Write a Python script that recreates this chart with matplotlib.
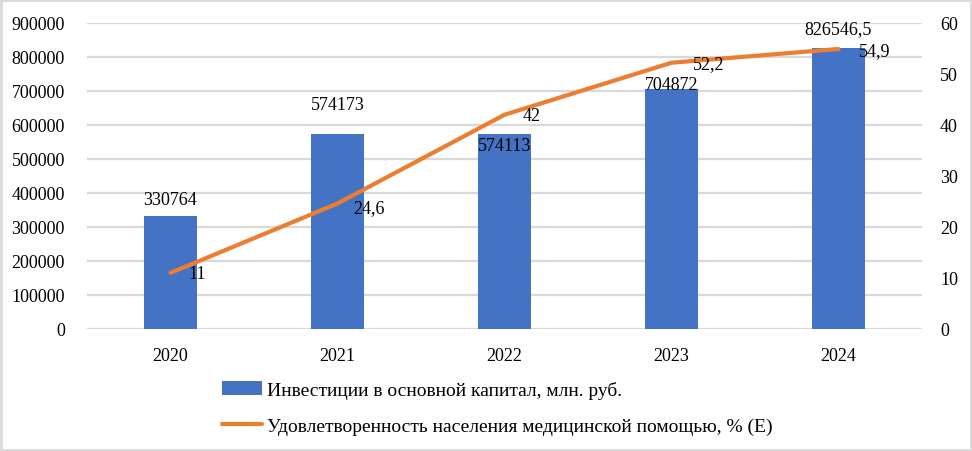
import matplotlib.pyplot as plt
import numpy as np

years = ["2020", "2021", "2022", "2023", "2024"]
invest = [330764, 574173, 574113, 704872, 826546.5]
invest_labels = ["330764", "574173", "574113", "704872", "826546,5"]
satisf = [11, 24.6, 42, 52.2, 54.9]
satisf_labels = ["11", "24,6", "42", "52,2", "54,9"]

plt.rcParams["font.family"] = ["Liberation Serif", "DejaVu Serif"]
plt.rcParams["font.size"] = 13

fig = plt.figure(figsize=(9.72, 4.52), dpi=100)
ax = fig.add_axes([0.0895, 0.27, 0.859, 0.677])
ax2 = ax.twinx()

x = np.arange(len(years))
bars = ax.bar(x, invest, width=0.32, color="#4472C4", zorder=2,
              label="Инвестиции в основной капитал, млн. руб.")
line, = ax2.plot(x, satisf, color="#ED7D31", lw=3, solid_capstyle="round", zorder=3,
                 label="Удовлетворенность населения медицинской помощью, % (Е)")

ax.set_xlim(-0.5, len(years) - 0.5)
ax.set_ylim(0, 900000)
ax.set_yticks(range(0, 900001, 100000))
ax2.set_ylim(0, 60)
ax2.set_yticks(range(0, 61, 10))
ax.set_xticks(x)
ax.set_xticklabels(years)
ax.yaxis.grid(True, color="#D9D9D9", lw=1.6, zorder=0)
ax.set_axisbelow(True)
for a in (ax, ax2):
    for s in a.spines.values():
        s.set_visible(False)
    a.tick_params(length=0, colors="#000000")
ax.tick_params(axis="y", pad=16)
ax.tick_params(axis="x", pad=13)
ax2.tick_params(axis="y", pad=13)

# data label offsets (pixels)
bar_off = [17, 29, -12, 5, 19]
for i, v in enumerate(invest):
    ax.annotate(invest_labels[i], (x[i], v), xytext=(0, bar_off[i]),
                textcoords="offset pixels", ha="center", va="center")
line_off = [(18, -1), (16, -4), (18, -1), (21, -1), (20, -2)]
for i, v in enumerate(satisf):
    ax2.annotate(satisf_labels[i], (x[i], v), xytext=line_off[i],
                 textcoords="offset pixels", ha="left", va="center")

fig.legend(handles=[bars, line], loc="upper left", bbox_to_anchor=(0.228, 0.155),
           frameon=False, ncol=1, handlelength=2.1, handletextpad=0.25,
           labelspacing=0.95, borderaxespad=0, borderpad=0, fontsize=14)

fig.patches.append(plt.Rectangle((0.0015, 0.003), 0.997, 0.994, transform=fig.transFigure,
                                 fill=False, edgecolor="#D9D9D9", lw=2))

fig.savefig("out.png", dpi=100)
